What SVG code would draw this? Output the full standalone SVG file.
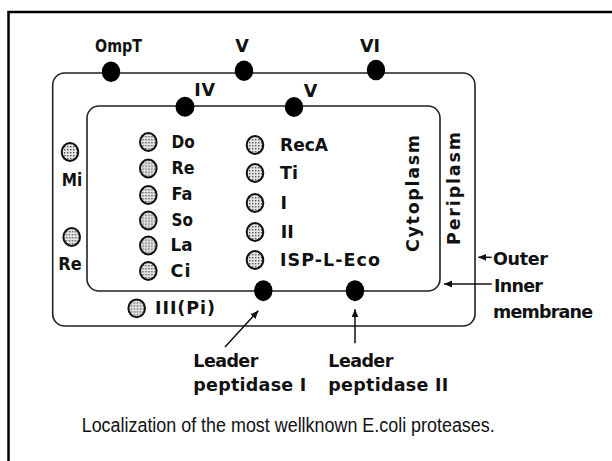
<svg xmlns="http://www.w3.org/2000/svg" xmlns:xlink="http://www.w3.org/1999/xlink" width="612" height="461" viewBox="0 0 612 461">
<style>
.lbl{font-family:"DejaVu Sans","Liberation Sans",sans-serif;font-weight:bold;font-size:17.5px;fill:#111}
.mem{fill:none;stroke:#222;stroke-width:1.6}
.dot{fill:#000}
.cap{font-family:"Liberation Sans",Arial,sans-serif;font-size:20px;fill:#111}
.arr{stroke:#111;stroke-width:1.5;fill:none}
</style>
<defs>
<pattern id="stip" width="3" height="3" patternUnits="userSpaceOnUse"><rect width="3" height="3" fill="#e6e6e6"/><rect width="1.4" height="1.4" fill="#555"/></pattern>
<g id="b"><ellipse rx="8.3" ry="8.9" fill="url(#stip)" stroke="#111" stroke-width="2"/></g>
<marker id="ah" markerUnits="userSpaceOnUse" markerWidth="9" markerHeight="8" refX="8" refY="3.5" orient="auto"><path d="M0,0 L8,3.5 L0,7 z" fill="#111"/></marker>
</defs>
<rect width="612" height="461" fill="#fff"/>
<path d="M8.5,461 V12 H612" fill="none" stroke="#000" stroke-width="2.5"/>

<g id="outer-membrane"><rect class="mem" x="52.7" y="73" width="422.3" height="253" rx="12"/></g>
<g id="inner-membrane"><rect class="mem" x="87" y="106" width="353" height="185" rx="12"/></g>

<g id="ompT"><ellipse class="dot" cx="111" cy="71.7" rx="9.2" ry="10.3"/><text class="lbl" x="95" y="52" textLength="47" lengthAdjust="spacingAndGlyphs">OmpT</text></g>
<g id="V-outer"><ellipse class="dot" cx="244" cy="70.7" rx="9.2" ry="10.3"/><text class="lbl" x="242" y="52" text-anchor="middle">V</text></g>
<g id="VI"><ellipse class="dot" cx="376" cy="70" rx="9.2" ry="10.3"/><text class="lbl" x="360" y="52" textLength="20">VI</text></g>
<g id="IV"><ellipse class="dot" cx="185" cy="106.7" rx="9.5" ry="10"/><text class="lbl" x="194.3" y="95.5" textLength="20.7">IV</text></g>
<g id="V-inner"><ellipse class="dot" cx="294" cy="107" rx="9.2" ry="10"/><text class="lbl" x="310.5" y="96.5" text-anchor="middle">V</text></g>
<g id="leader-peptidase-I"><ellipse class="dot" cx="263.3" cy="290.7" rx="9.2" ry="10.5"/><text class="lbl" x="193.3" y="366.5" textLength="65">Leader</text><text class="lbl" x="193.3" y="391" textLength="113">peptidase I</text></g>
<g id="leader-peptidase-II"><ellipse class="dot" cx="355" cy="290.7" rx="9.2" ry="10.5"/><text class="lbl" x="328.3" y="366.5" textLength="65">Leader</text><text class="lbl" x="328.3" y="391" textLength="120">peptidase II</text></g>

<g id="Mi"><use xlink:href="#b" x="70" y="152"/><text class="lbl" x="61.7" y="186" textLength="20.5" lengthAdjust="spacingAndGlyphs">Mi</text></g>
<g id="Re-peri"><use xlink:href="#b" x="71.7" y="237"/><text class="lbl" x="58.3" y="270" textLength="23.4" lengthAdjust="spacingAndGlyphs">Re</text></g>
<g id="III-Pi"><use xlink:href="#b" x="136.7" y="308.3"/><text class="lbl" x="155" y="313.5" textLength="60">III(Pi)</text></g>

<g id="Do"><use xlink:href="#b" x="148.3" y="142"/><text class="lbl" x="171.5" y="147.5" textLength="23.3" lengthAdjust="spacingAndGlyphs">Do</text></g>
<g id="Re"><use xlink:href="#b" x="148.3" y="168.5"/><text class="lbl" x="171.5" y="174" textLength="23" lengthAdjust="spacingAndGlyphs">Re</text></g>
<g id="Fa"><use xlink:href="#b" x="148.3" y="195"/><text class="lbl" x="171.5" y="200" textLength="21" lengthAdjust="spacingAndGlyphs">Fa</text></g>
<g id="So"><use xlink:href="#b" x="148.3" y="220.5"/><text class="lbl" x="171.5" y="225.5" textLength="21.5" lengthAdjust="spacingAndGlyphs">So</text></g>
<g id="La"><use xlink:href="#b" x="148.3" y="245.5"/><text class="lbl" x="170.5" y="251" textLength="22" lengthAdjust="spacingAndGlyphs">La</text></g>
<g id="Ci"><use xlink:href="#b" x="148.3" y="271"/><text class="lbl" x="170.5" y="277" textLength="20">Ci</text></g>

<g id="RecA"><use xlink:href="#b" x="255" y="145"/><text class="lbl" x="280" y="150.5" textLength="48" lengthAdjust="spacingAndGlyphs">RecA</text></g>
<g id="Ti"><use xlink:href="#b" x="255" y="173"/><text class="lbl" x="280" y="178.5">Ti</text></g>
<g id="I"><use xlink:href="#b" x="255" y="203"/><text class="lbl" x="280.5" y="208.5">I</text></g>
<g id="II"><use xlink:href="#b" x="255" y="232"/><text class="lbl" x="280.7" y="237.5" textLength="13">II</text></g>
<g id="ISP-L-Eco"><use xlink:href="#b" x="255" y="260"/><text class="lbl" x="280" y="265.5" textLength="100">ISP-L-Eco</text></g>

<g id="cytoplasm"><text class="lbl" transform="translate(419,193.5) rotate(-90)" text-anchor="middle" textLength="117">Cytoplasm</text></g>
<g id="periplasm"><text class="lbl" transform="translate(459.5,188.5) rotate(-90)" text-anchor="middle" textLength="113">Periplasm</text></g>
<g id="outer-label"><text class="lbl" x="493" y="265" textLength="55">Outer</text></g>
<g id="inner-label"><text class="lbl" x="494" y="292" textLength="49">Inner</text><text class="lbl" x="493" y="317.5" textLength="100">membrane</text></g>

<g id="connectors">
<line class="arr" x1="491.7" y1="257.3" x2="478.3" y2="257.3" marker-end="url(#ah)"/>
<line class="arr" x1="491.7" y1="284" x2="444" y2="284" marker-end="url(#ah)"/>
<line class="arr" x1="225" y1="347" x2="258.3" y2="310.7" marker-end="url(#ah)"/>
<line class="arr" x1="355" y1="343.3" x2="355" y2="309.3" marker-end="url(#ah)"/>
</g>

<g id="caption"><text class="cap" x="81.7" y="432" textLength="413" lengthAdjust="spacingAndGlyphs">Localization of the most wellknown E.coli proteases.</text></g>
</svg>
